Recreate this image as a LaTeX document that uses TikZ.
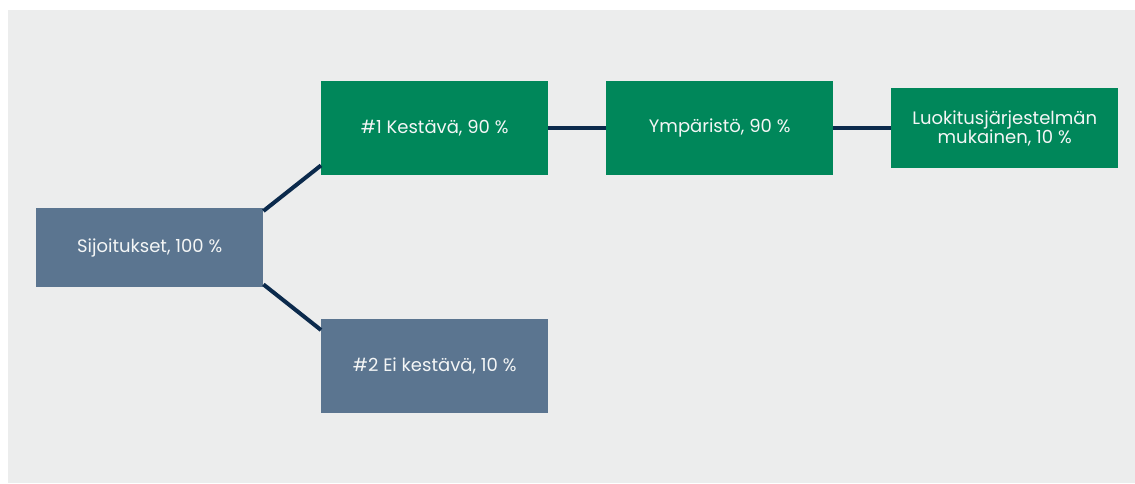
\documentclass[tikz,border=0pt]{standalone}
\usepackage{fontspec}
\setmainfont{Poppins}
\usetikzlibrary{calc}
\definecolor{bggray}{HTML}{ECEDED}
\definecolor{boxgreen}{HTML}{00875A}
\definecolor{boxblue}{HTML}{5B7590}
\definecolor{linenavy}{HTML}{0B2A4C}
\definecolor{txt}{HTML}{F4F6F6}
\tikzset{
  box/.style={anchor=north west, inner sep=0pt, text=txt, align=center, font=\fontsize{18}{19.5}\selectfont},
  greenbox/.style={box, fill=boxgreen},
  bluebox/.style={box, fill=boxblue},
  conn/.style={draw=linenavy, line width=4pt},
}
\begin{document}
\begin{tikzpicture}[x=1pt,y=-1pt]
\useasboundingbox (0,0) rectangle (1135,483);
\fill[white] (0,0) rectangle (1135,483);
\fill[bggray] (8,10) rectangle (1135,483);
\node[bluebox, minimum width=227pt, minimum height=79pt] (s) at (36,208) {Sijoitukset, 100 \%};
\node[greenbox, minimum width=227pt, minimum height=94pt] (k1) at (321,81) {\#1 Kestävä, 90 \%};
\node[bluebox, minimum width=227pt, minimum height=94pt] (k2) at (321,319) {\#2 Ei kestävä, 10 \%};
\node[greenbox, minimum width=227pt, minimum height=94pt] (y) at (606,81) {Ympäristö, 90 \%};
\node[greenbox, minimum width=227pt, minimum height=80pt] (l) at (891,88) {Luokitusjärjestelmän\\mukainen, 10 \%};
\draw[conn] ($(s.north east)+(0,3)$) -- ($(k1.south west)+(0,-10)$);
\draw[conn] ($(s.south east)+(0,-3)$) -- ($(k2.north west)+(0,11)$);
\draw[conn] (k1.east) -- (y.west);
\draw[conn] (y.east) -- (y.east -| l.west);
\end{tikzpicture}
\end{document}
